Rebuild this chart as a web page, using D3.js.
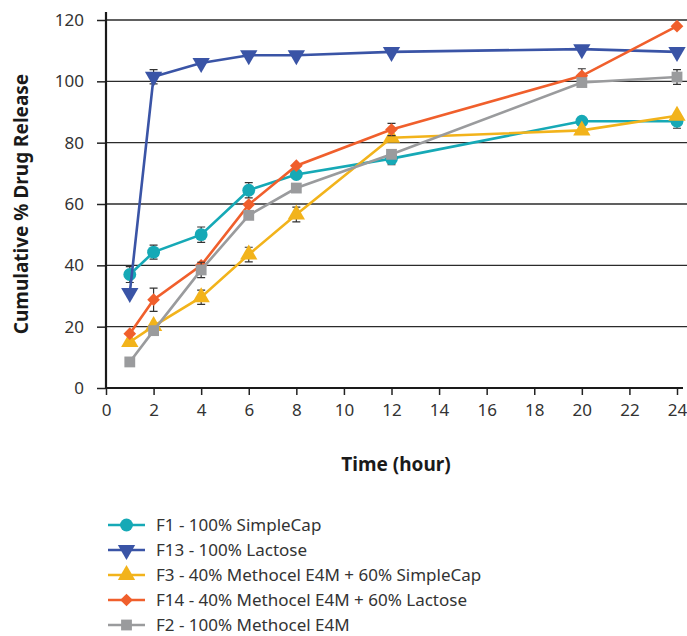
<!DOCTYPE html>
<html>
<head>
<meta charset="utf-8">
<script src="https://cdn.jsdelivr.net/npm/d3@7"></script>
<style>
  body { margin: 0; background: #fff; }
  svg { display: block; }
  .tick text { font-family: "Noto Sans", sans-serif; font-size: 17px; fill: #333; }
</style>
</head>
<body>
<svg id="chart" width="687" height="636"></svg>
<script>
// sampling times (hours)
const times = [1, 2, 4, 6, 8, 12, 20, 24];

const f1 = [37, 44.3, 50, 64.5, 69.6, 74.8, 87, 87];
const f1Err = [2.6, 2.3, 2.5, 2.5, 0, 2, 0, 2.3];
const f13 = [31, 101.5, 106, 108.5, 108.5, 109.6, 110.5, 109.6];
const f13Err = [0, 2.3, 0, 0, 0, 0, 0, 0];
const f3 = [15, 20.2, 29.6, 43.5, 56.6, 81.6, 84, 88.8];
const f3Err = [0, 0, 2.3, 2.4, 2.4, 0, 0, 0];
const f14 = [17.7, 28.8, 40, 59.8, 72.5, 84.3, 101.8, 118];
const f14Err = [0, 3.8, 0, 0, 0, 2, 2.3, 0];
const f2 = [8.5, 18.7, 38.5, 56.3, 65.2, 76.2, 99.6, 101.4];
const f2Err = [0, 0, 2.5, 0, 0, 0, 0, 2.4];

const seriesNames = [
  "F1 - 100% SimpleCap",
  "F13 - 100% Lactose",
  "F3 - 40% Methocel E4M + 60% SimpleCap",
  "F14 - 40% Methocel E4M + 60% Lactose",
  "F2 - 100% Methocel E4M"
];
const seriesColors = ["#16a9b6", "#3a54a6", "#f2b31b", "#f05f2c", "#9a9b9d"];
const xTicks = [0, 2, 4, 6, 8, 10, 12, 14, 16, 18, 20, 22, 24];
const yTicks = [0, 20, 40, 60, 80, 100, 120];

const series = [
  { name: seriesNames[0], values: f1, err: f1Err, color: seriesColors[0], shape: "circle" },
  { name: seriesNames[1], values: f13, err: f13Err, color: seriesColors[1], shape: "down" },
  { name: seriesNames[2], values: f3, err: f3Err, color: seriesColors[2], shape: "up" },
  { name: seriesNames[3], values: f14, err: f14Err, color: seriesColors[3], shape: "diamond" },
  { name: seriesNames[4], values: f2, err: f2Err, color: seriesColors[4], shape: "square" }
];

const svg = d3.select("#chart");

const x = d3.scaleLinear().domain([0, 24]).range([106, 677]);
const y = d3.scaleLinear().domain([0, 120]).range([388, 20]);

// horizontal gridlines
svg.append("g")
  .selectAll("line")
  .data(yTicks.filter(d => d > 0))
  .join("line")
  .attr("x1", 106).attr("x2", 687)
  .attr("y1", d => y(d)).attr("y2", d => y(d))
  .attr("stroke", "#2b2b2b")
  .attr("stroke-width", 1.3);

// axes
const yAxis = svg.append("g")
  .attr("transform", "translate(106,0)")
  .call(d3.axisLeft(y).tickValues(yTicks).tickSize(9).tickPadding(13));
yAxis.select(".domain").remove();
yAxis.selectAll(".tick line").attr("stroke", "#222").attr("stroke-width", 1.5);

const xAxis = svg.append("g")
  .attr("transform", "translate(0,388)")
  .call(d3.axisBottom(x).tickValues(xTicks).tickSize(7).tickPadding(9));
xAxis.select(".domain").remove();
xAxis.selectAll(".tick line").attr("stroke", "#222").attr("stroke-width", 1.5);

svg.append("line")
  .attr("x1", 106).attr("x2", 106).attr("y1", 12).attr("y2", 389)
  .attr("stroke", "#1a1a1a").attr("stroke-width", 2.2);
svg.append("line")
  .attr("x1", 105).attr("x2", 683).attr("y1", 388).attr("y2", 388)
  .attr("stroke", "#1a1a1a").attr("stroke-width", 2.2);

// axis titles
svg.append("text")
  .attr("transform", "translate(28,204) rotate(-90)")
  .attr("text-anchor", "middle")
  .style("font-family", "'Noto Sans', sans-serif")
  .style("font-weight", "bold")
  .style("font-size", "19px")
  .attr("fill", "#1a1a1a")
  .text("Cumulative % Drug Release");

svg.append("text")
  .attr("x", 396).attr("y", 471)
  .attr("text-anchor", "middle")
  .style("font-family", "'Noto Sans', sans-serif")
  .style("font-weight", "bold")
  .style("font-size", "19px")
  .attr("fill", "#1a1a1a")
  .text("Time (hour)");

function symbolPath(shape, size) {
  if (shape === "circle") return d3.symbol(d3.symbolCircle, size)();
  if (shape === "square") return d3.symbol(d3.symbolSquare, size * 0.9)();
  if (shape === "diamond") return d3.symbol(d3.symbolSquare, size * 0.62)();
  return d3.symbol(d3.symbolTriangle, size)();
}

function drawMarker(g, s, cx, cy) {
  let rot = "";
  if (s.shape === "down") rot = " rotate(180)";
  if (s.shape === "diamond") rot = " rotate(45)";
  g.append("path")
    .attr("d", symbolPath(s.shape, 130))
    .attr("transform", `translate(${cx},${cy})` + rot)
    .attr("fill", s.color);
}

const line = d3.line()
  .x(d => x(d[0]))
  .y(d => y(d[1]));

series.forEach(s => {
  const g = svg.append("g");
  const pts = times.map((t, i) => [t, s.values[i], s.err[i]]);

  // error bars
  pts.filter(p => p[2] > 0).forEach(p => {
    const top = y(p[1] + p[2]), bot = y(p[1] - p[2]);
    g.append("path")
      .attr("d", `M${x(p[0])},${top}V${bot}M${x(p[0]) - 4},${top}H${x(p[0]) + 4}M${x(p[0]) - 4},${bot}H${x(p[0]) + 4}`)
      .attr("stroke", "#333")
      .attr("stroke-width", 1.2)
      .attr("fill", "none");
  });

  g.append("path")
    .datum(pts)
    .attr("d", line)
    .attr("fill", "none")
    .attr("stroke", s.color)
    .attr("stroke-width", 2.6);

  pts.forEach(p => drawMarker(g, s, x(p[0]), y(p[1])));
});

// legend
const legend = svg.append("g");
series.forEach((s, i) => {
  const ly = 525 + i * 25;
  legend.append("line")
    .attr("x1", 108).attr("x2", 145).attr("y1", ly).attr("y2", ly)
    .attr("stroke", s.color).attr("stroke-width", 2.6);
  drawMarker(legend, s, 126.5, ly);
  legend.append("text")
    .attr("x", 156).attr("y", ly)
    .attr("dy", "0.35em")
    .style("font-family", "'Noto Sans', sans-serif")
    .style("font-size", "17px")
    .attr("fill", "#333")
    .text(s.name);
});
</script>
</body>
</html>
